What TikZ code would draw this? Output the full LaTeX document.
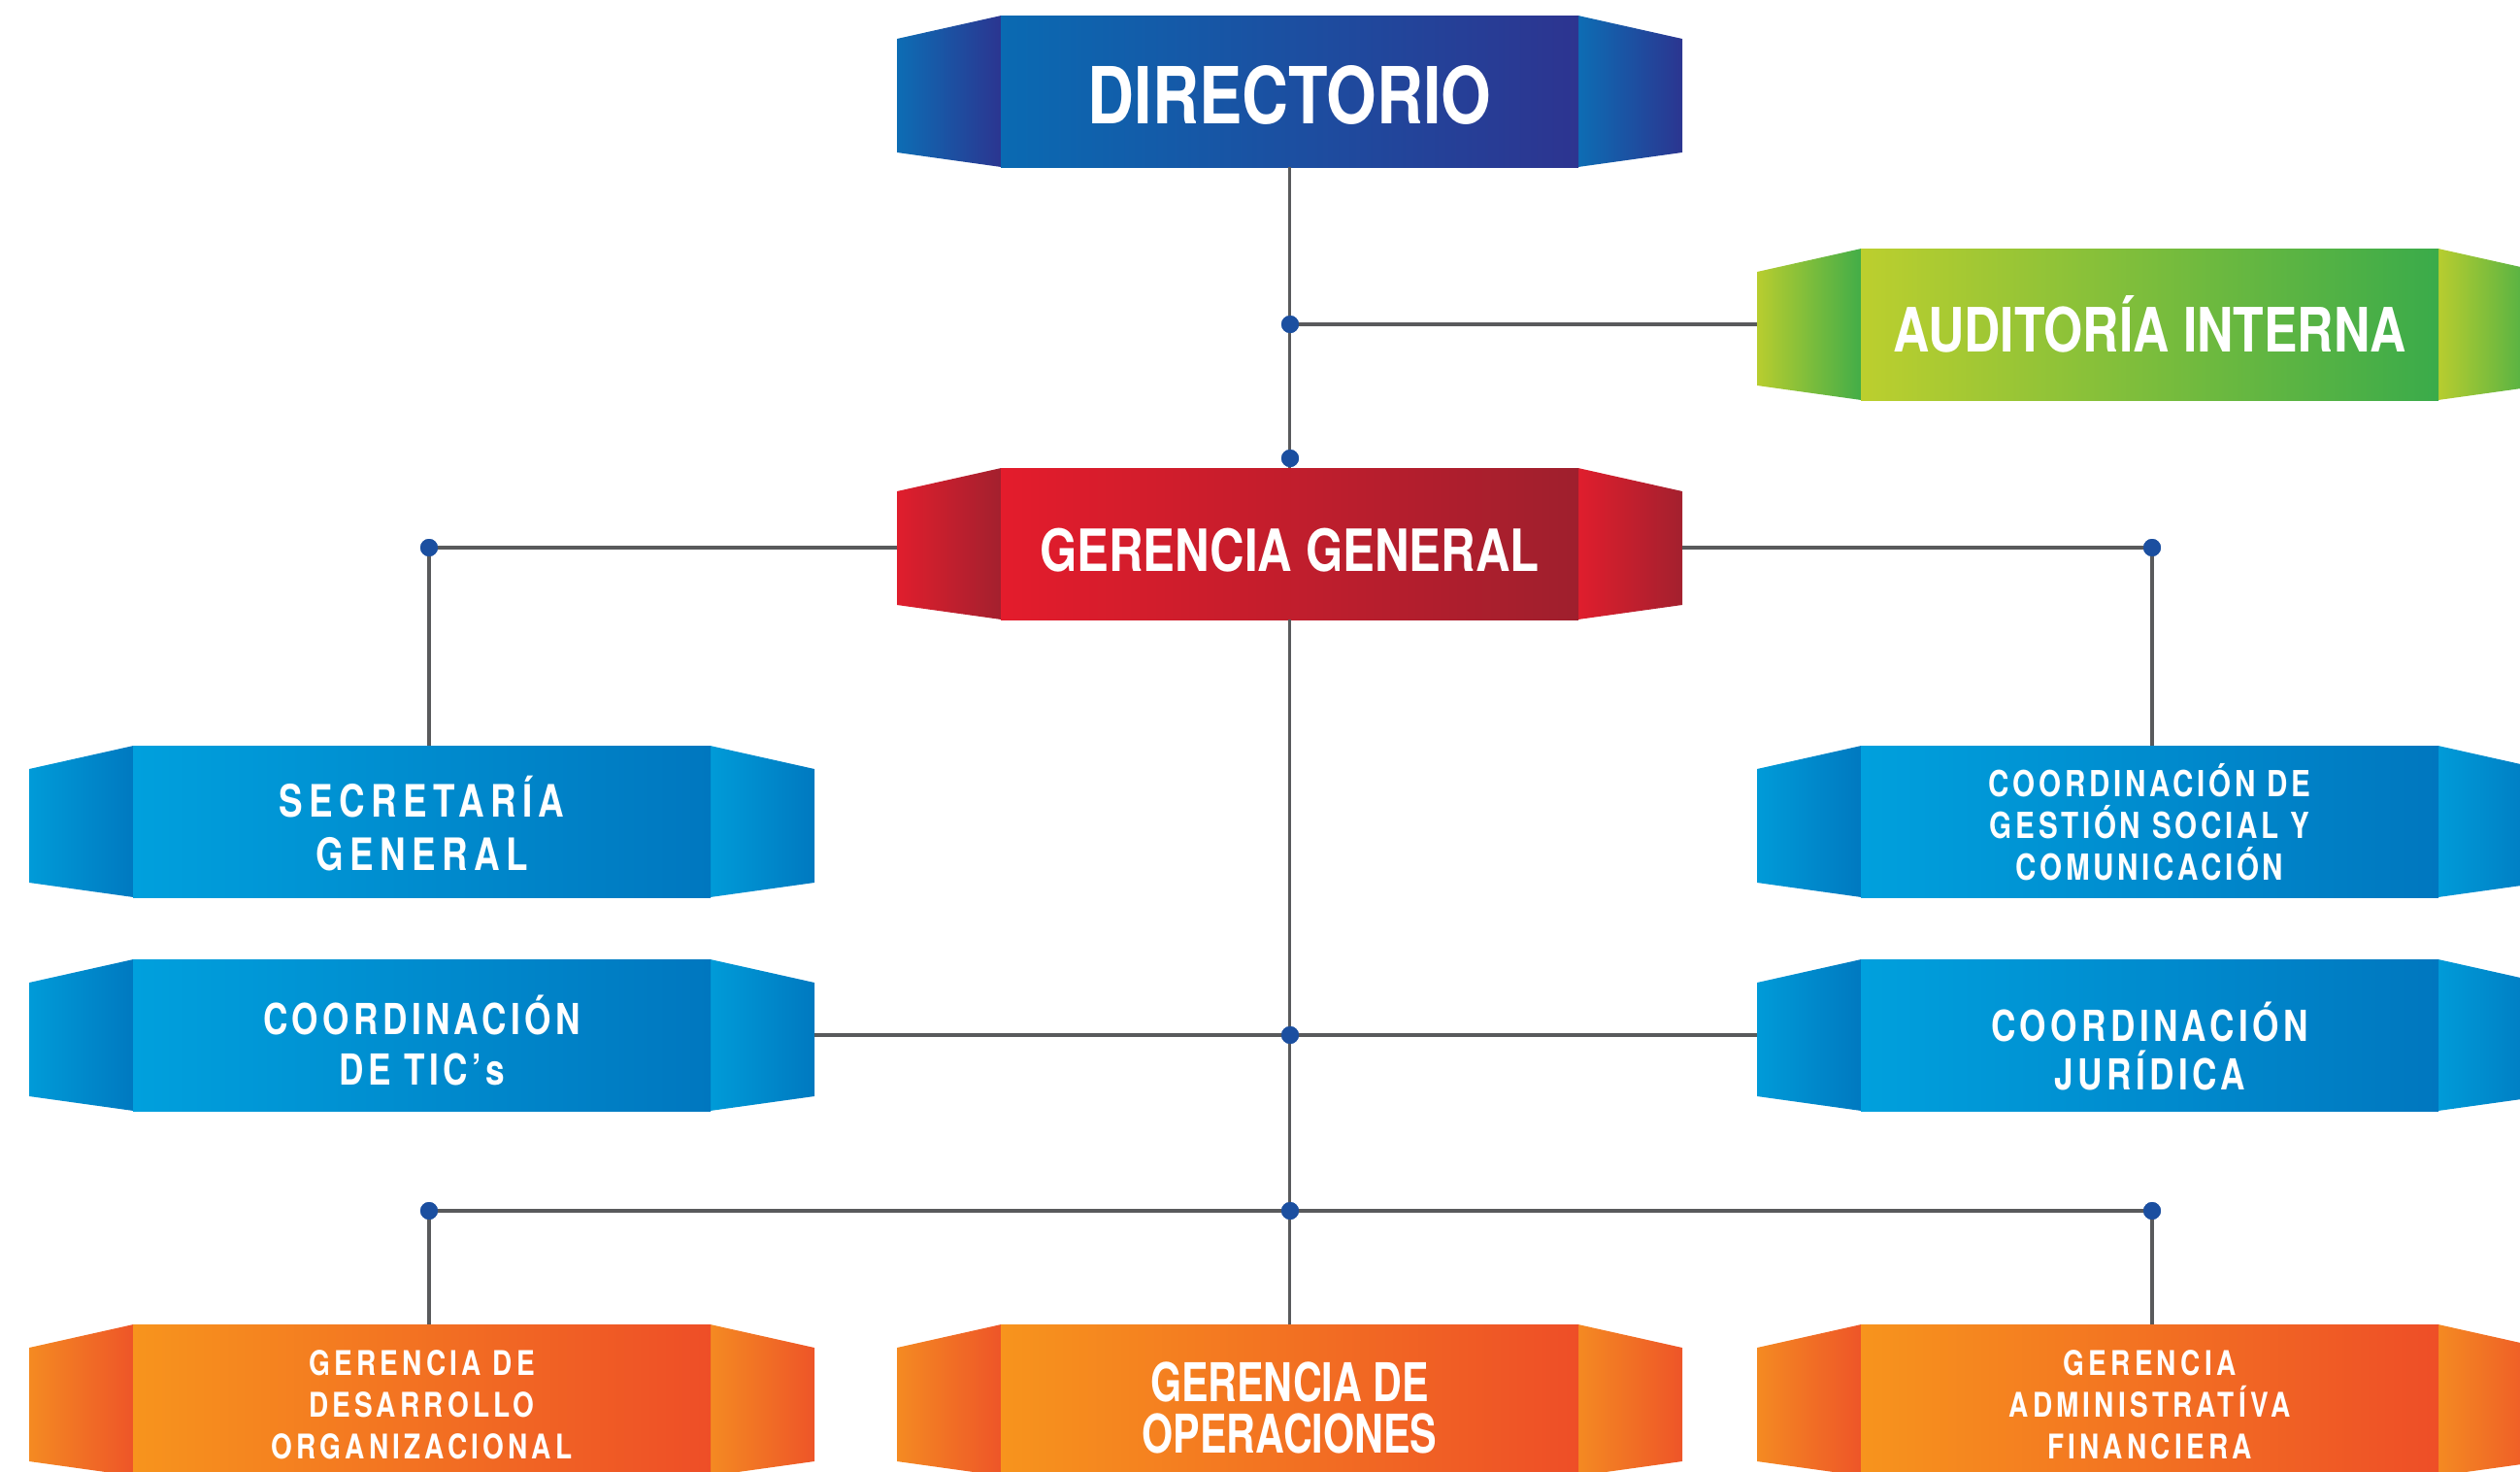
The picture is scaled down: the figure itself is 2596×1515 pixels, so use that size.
\documentclass[tikz,border=0pt]{standalone}
\usepackage{fontspec}
\newfontfamily\fA[FakeStretch=0.82]{TeX Gyre Heros}
\newfontfamily\fC[FakeStretch=0.75]{TeX Gyre Heros}
\newfontfamily\fB[FakeStretch=0.8]{TeX Gyre Heros}
\usetikzlibrary{calc}
\definecolor{dbL}{HTML}{0A6AB2}\definecolor{dbR}{HTML}{2D3490}
\definecolor{dbpL}{HTML}{0D6DB4}\definecolor{dbpR}{HTML}{2B3590}
\definecolor{rdL}{HTML}{E41C2C}\definecolor{rdR}{HTML}{9F1F2D}
\definecolor{rdpL}{HTML}{E01E2D}\definecolor{rdpR}{HTML}{A3202E}
\definecolor{grL}{HTML}{BCCF2E}\definecolor{grR}{HTML}{3AAB4A}
\definecolor{grpL}{HTML}{B8CD2F}\definecolor{grpR}{HTML}{42AD48}
\definecolor{blL}{HTML}{00A0DD}\definecolor{blR}{HTML}{0077BF}
\definecolor{blpL}{HTML}{009BD8}\definecolor{blpR}{HTML}{0079C0}
\definecolor{orL}{HTML}{F7941D}\definecolor{orR}{HTML}{EE4E27}
\definecolor{orpL}{HTML}{F48A22}\definecolor{orpR}{HTML}{EE5528}
\definecolor{lineC}{HTML}{595A5C}
\definecolor{dotC}{HTML}{1B4FA0}
\tikzset{
  orgbox/.style n args={4}{
    minimum width=809pt, minimum height=156pt, inner sep=0pt, outer sep=0pt,
    fill=white,
    path picture={
      \path (path picture bounding box.north west) coordinate (pa)
            (path picture bounding box.south west) coordinate (pc)
            (path picture bounding box.north east) coordinate (pd)
            (path picture bounding box.south east) coordinate (pb);
      \shade[left color=#3, right color=#4]
        ([yshift=-24pt]pa) -- ([xshift=107.5pt]pa) -- ([xshift=107.5pt]pc) -- ([yshift=15pt]pc) -- cycle;
      \shade[left color=#3, right color=#4]
        ([xshift=-107.5pt]pd) -- ([yshift=-24pt]pd) -- ([yshift=15pt]pb) -- ([xshift=-107.5pt]pb) -- cycle;
      \shade[left color=#1, right color=#2]
        ([xshift=107pt]pa) rectangle ([xshift=-107pt]pb);
    }
  },
  txt/.style={text=white, align=center, inner sep=0pt},
  conn/.style={draw=lineC, line width=3.2pt},
  jdot/.style={circle, fill=dotC, minimum size=18pt, inner sep=0pt},
  bigtxt/.style={txt, font={\fA\bfseries\fontsize{#1}{#1}\selectfont}},
  trk/.style n args={3}{txt, font={\fB\bfseries\fontsize{#1}{#2}\selectfont\addfontfeature{LetterSpace=#3}}}
}
\begin{document}
\begin{tikzpicture}[x=1pt,y=-1pt]
\useasboundingbox (0,0) rectangle (2596,1515);
\clip (0,0) rectangle (2596,1515);
\fill[white] (0,0) rectangle (2596,1515);

% boxes
\node[orgbox={dbL}{dbR}{dbpL}{dbpR}] (dir) at (1328.5,94) {};
\node[orgbox={grL}{grR}{grpL}{grpR}] (aud) at (2214.5,334) {};
\node[orgbox={rdL}{rdR}{rdpL}{rdpR}] (gg) at (1328.5,560) {};
\node[orgbox={blL}{blR}{blpL}{blpR}] (sec) at (434.5,846) {};
\node[orgbox={blL}{blR}{blpL}{blpR}] (tic) at (434.5,1066) {};
\node[orgbox={blL}{blR}{blpL}{blpR}] (ges) at (2214.5,846) {};
\node[orgbox={blL}{blR}{blpL}{blpR}] (jur) at (2214.5,1066) {};
\node[orgbox={orL}{orR}{orpL}{orpR}] (dgo) at (434.5,1442) {};
\node[orgbox={orL}{orR}{orpL}{orpR}] (ops) at (1328.5,1442) {};
\node[orgbox={orL}{orR}{orpL}{orpR}] (gaf) at (2214.5,1442) {};

% texts
\node[bigtxt=81] (dirT) at ([yshift=-4pt]dir.center) {DIRECTORIO};
\node[bigtxt=63] (audT) at (aud.center) {AUDITORÍA INTERNA};
\node[bigtxt=60] (ggT) at ([yshift=-7pt]gg.center) {GERENCIA GENERAL};
\node[trk={46}{55}{14}] (secT) at ([yshift=-2pt]sec.center) {SECRETARÍA\\GENERAL};
\node[trk={44}{52}{10}] (ticT) at ([yshift=-5pt]tic.center) {COORDINACIÓN\\DE TIC’s};
\node[trk={37}{43}{10}] (gesT) at ([yshift=-1pt]ges.center) {COORDINACIÓN DE\\GESTIÓN SOCIAL Y\\COMUNICACIÓN};
\node[trk={44}{50}{10}] (jurT) at ([yshift=-11pt]jur.center) {COORDINACIÓN\\JURÍDICA};
\node[trk={35}{43}{12}] (dgoT) at ([yshift=-5pt]dgo.center) {GERENCIA DE\\DESARROLLO\\ORGANIZACIONAL};
\node[txt, font={\fC\bfseries\fontsize{55}{53}\selectfont}] (opsT) at ([yshift=-8pt]ops.center) {GERENCIA DE\\OPERACIONES};
\node[trk={35}{43}{12}] (gafT) at ([yshift=-5pt]gaf.center) {GERENCIA\\ADMINISTRATÍVA\\FINANCIERA};

% junction dots
\node[jdot] (k1) at (1329,334) {};
\node[jdot] (k2) at (1329,472) {};
\node[jdot] (kL) at (442,564) {};
\node[jdot] (kR) at (2217,564) {};
\node[jdot] (kC) at (1329,1066) {};
\node[jdot] (bL) at (442,1247) {};
\node[jdot] (bC) at (1329,1247) {};
\node[jdot] (bR) at (2217,1247) {};

% connectors
\draw[conn] (dir.south) -- (gg.north);
\draw[conn] (k1.center) -- (k1.center -| aud.west);
\draw[conn] (gg.west |- kL.center) -- (kL.center) -- (kL.center |- sec.north);
\draw[conn] (gg.east |- kR.center) -- (kR.center) -- (kR.center |- ges.north);
\draw[conn] (gg.south) -- (ops.north);
\draw[conn] (tic.east) -- (jur.west);
\draw[conn] (bL.center) -- (bR.center);
\draw[conn] (bL.center) -- (bL.center |- dgo.north);
\draw[conn] (bR.center) -- (bR.center |- gaf.north);

\foreach \k in {k1,k2,kL,kR,kC,bL,bC,bR}{\fill[dotC] (\k.center) circle (9pt);}
\end{tikzpicture}
\end{document}
